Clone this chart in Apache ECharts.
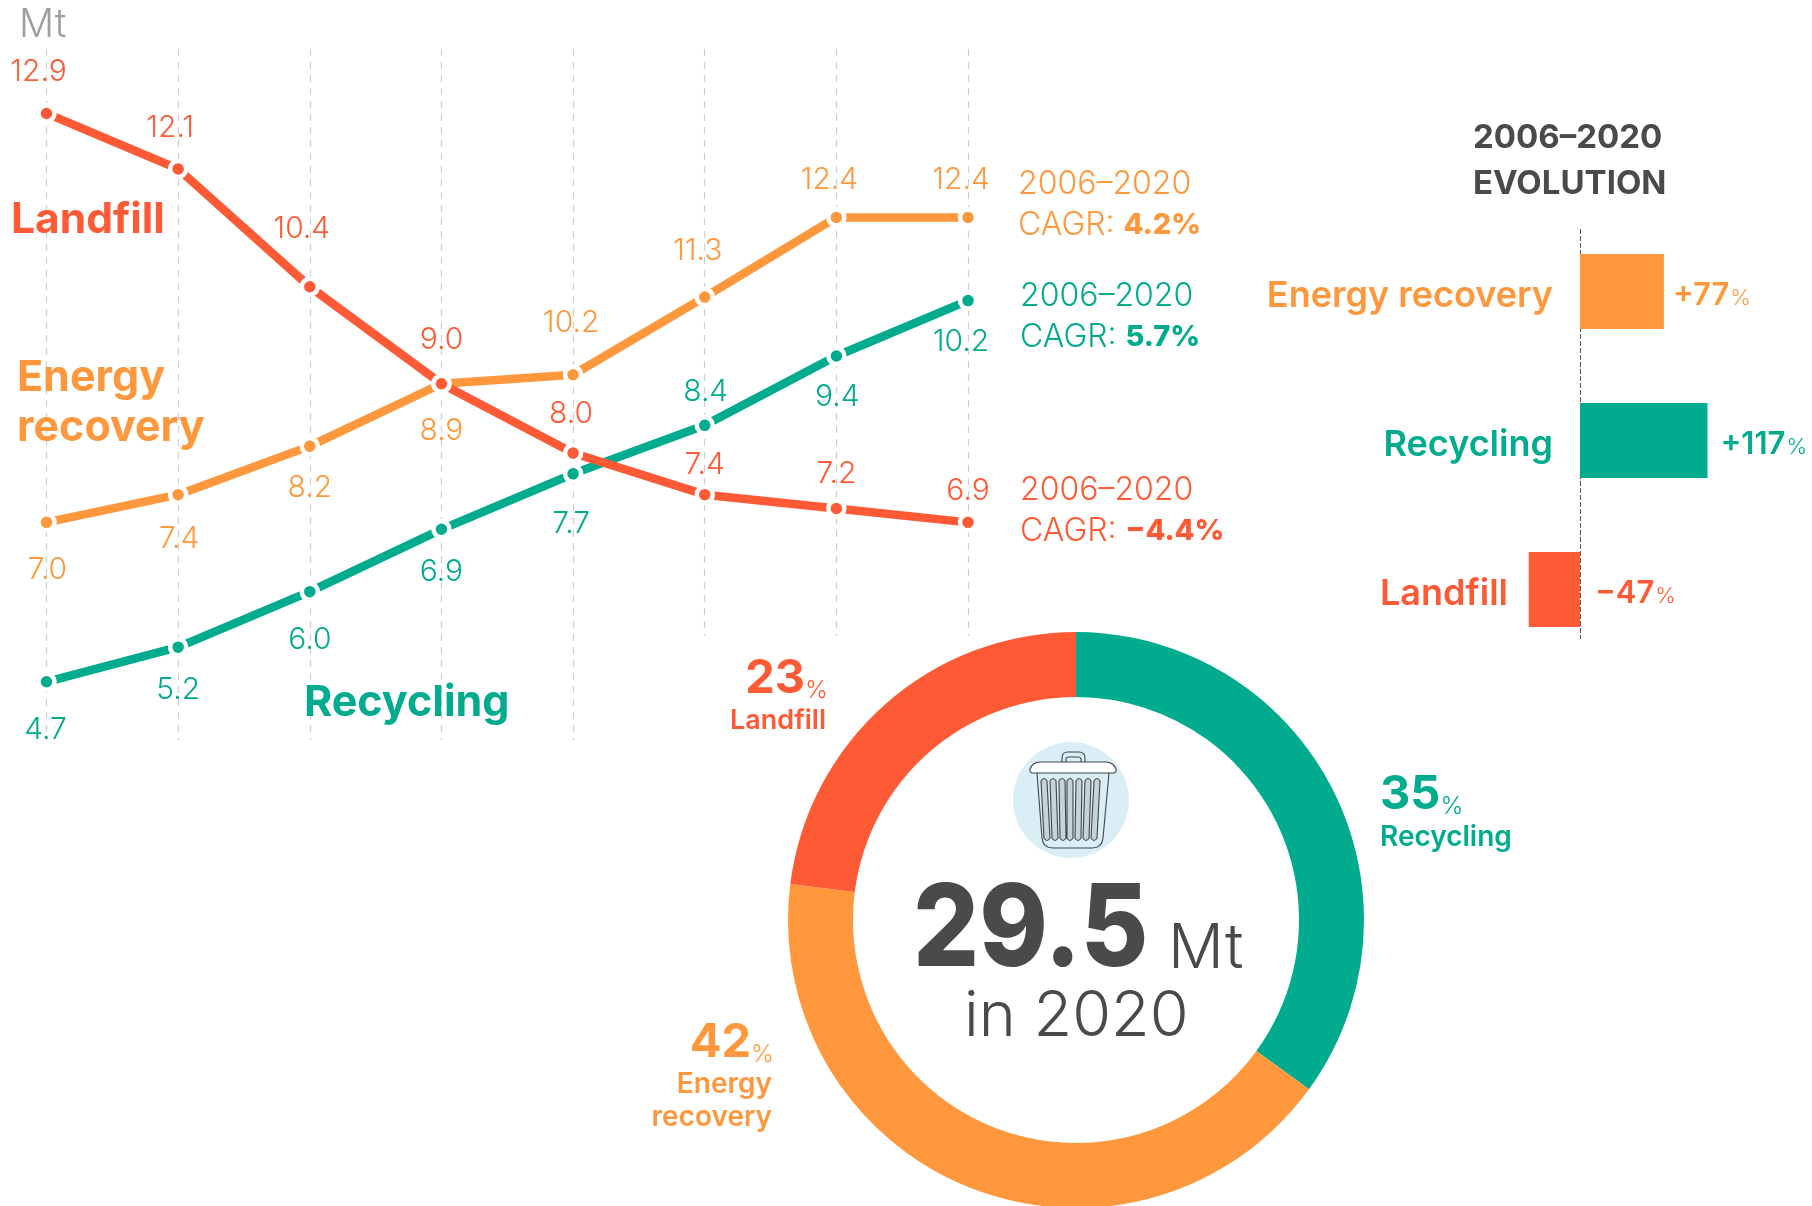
<!DOCTYPE html>
<html>
<head>
<meta charset="utf-8">
<style>html,body{margin:0;padding:0;background:#fff;overflow:hidden}#c{width:1812px;height:1206px}</style>
<script src="https://cdn.jsdelivr.net/npm/echarts@6/dist/echarts.min.js"></script>
</head>
<body>
<div id="c"></div>
<script>
// ---- Data ----
const years = ['2006','2008','2010','2012','2014','2016','2018','2020'];
// Printed labels
const landfillLabels = ['12.9','12.1','10.4','9.0','8.0','7.4','7.2','6.9'];
const energyLabels   = ['7.0','7.4','8.2','8.9','10.2','11.3','12.4','12.4'];
const recyclingLabels= ['4.7','5.2','6.0','6.9','7.7','8.4','9.4','10.2'];
// Heights as drawn in the picture (the drawn energy line and the last landfill
// point sit lower than their printed labels, so both are kept).
const landfillValues = [12.9,12.1,10.4,9.0,8.0,7.4,7.2,7.0];
const energyValues   = [7.0,7.4,8.1,9.0,9.13,10.25,11.4,11.4];
const recyclingValues= [4.7,5.2,6.0,6.9,7.7,8.4,9.4,10.2];
// Bars
const evolutionNames  = ['Energy recovery','Recycling','Landfill'];
const evolutionValues = [77,117,-47];
const evolutionLabels = ['+77','+117','\u221247'];
// Donut
const shareNames  = ['Recycling','Energy recovery','Landfill'];
const shareValues = [35,42,23];
const cagrTexts   = ['4.2%','5.7%','\u22124.4%'];

// ---- Styles ----
const ORANGE='#FF983D', GREEN='#00AB8E', RED='#FF5A36', DARK='#4A4A48', FONT='Inter';
const lblOffsets = {
  landfill:[[-8,-41],[-8,-41],[-8,-58],[0,-44],[-2,-39],[0,-30],[0,-35],[0,-31]],
  energy:[[1,48],[1,44],[0,42],[0,47],[-2,-52],[-7,-46],[-7,-37],[-7,-37]],
  recycling:[[-1,48],[0,43],[0,48],[0,43],[-2,50],[1,-33],[1,41],[-7,41]]
};
function lineSeries(name,vals,labels,color,offs){
  return {
    type:'line', name, xAxisIndex:0, yAxisIndex:0, data:vals.map((v,i)=>({
      value:v,
      label:{show:true,position:'inside',offset:offs[i],formatter:labels[i],color,fontFamily:FONT,fontWeight:300,fontSize:30}
    })),
    lineStyle:{color,width:8.5,cap:'butt'}, symbol:'circle', symbolSize:16,
    itemStyle:{color,borderColor:'#fff',borderWidth:4.5}, showSymbol:true, animation:false, silent:true, z:3
  };
}
function txt(x,y,text,color,size,weight,extra){
  return {type:'text',z:20,silent:true,style:Object.assign({x,y,text,fill:color,fontFamily:FONT,fontSize:size,fontWeight:weight,
    textAlign:'left',textVerticalAlign:'middle'},extra||{})};
}
function cagr(x,y,i,color){
  return [txt(x,y+1,'2006\u20132020',color,32,300),
    txt(x,y+42,'CAGR: {b|'+cagrTexts[i]+'}',color,32,300,{rich:{b:{fontFamily:FONT,fontSize:29,fontWeight:800,fill:color}}})];
}
function pct(x,y,v,color,size,align){
  return txt(x,y,'{n|'+v+'}{p|%}',color,size,700,{textAlign:align,rich:{
    n:{fontFamily:FONT,fontSize:size,fontWeight:700,fill:color},
    p:{fontFamily:FONT,fontSize:size*0.52,fontWeight:300,fill:color,verticalAlign:'bottom',padding:[9,0,0,0]}}});
}
const ribs=[[1044,1047],[1053,1055],[1062,1063],[1070,1070],[1079,1078],[1088,1086],[1097,1094]];
const ribPath=ribs.map(r=>{const t=r[0],b=r[1];
  return `M${t-3} 781 Q${t} 776 ${t+3} 781 L${b+3} 838 Q${b} 843 ${b-3} 838 Z`;}).join(' ');
const bodyPath='M1037 773 L1042 838 Q1043 848 1053 848 L1092 848 Q1102 848 1103 838 L1109 773';
const lidPath='M1033 773 Q1029 773 1030 769 Q1033 762 1040 762 L1106 762 Q1113 762 1116 769 Q1117 773 1113 773 Z';
const handlePath='M1062 762 L1062 758 Q1062 752 1068 752 L1079 752 Q1085 752 1085 758 L1085 762 M1066 762 L1066 759 Q1066 757 1069 757 L1078 757 Q1081 757 1081 759 L1081 762';
echarts.graphic.registerShape('binBody',echarts.graphic.extendPath(bodyPath));
echarts.graphic.registerShape('binRibs',echarts.graphic.extendPath(ribPath));
echarts.graphic.registerShape('binLid',echarts.graphic.extendPath(lidPath));
echarts.graphic.registerShape('binHandle',echarts.graphic.extendPath(handlePath));
const stroke={stroke:'#3f4547',lineWidth:1.1};

const graphic=[
  {type:'rect',z:1,silent:true,shape:{x:670,y:636,width:640,height:570},style:{fill:'#fff'}},
  txt(19,25,'Mt','#9a9ea1',39,300),
  txt(11,220,'Landfill',RED,42.5,700),
  txt(17,378,'Energy',ORANGE,43,700),
  txt(17,428,'recovery',ORANGE,43,700),
  txt(304,703,'Recycling',GREEN,43,700),
  ...cagr(1018,183,0,ORANGE),...cagr(1020,295,1,GREEN),...cagr(1020,489,2,RED),
  txt(1473,138,'2006\u20132020',DARK,33,700),
  txt(1473,184,'EVOLUTION',DARK,33,700),
  pct(828,679,shareValues[2],RED,47,'right'),
  txt(826,721,shareNames[2],RED,27,600,{textAlign:'right'}),
  pct(774,1043,shareValues[1],ORANGE,47,'right'),
  txt(772,1085,'Energy',ORANGE,28,600,{textAlign:'right'}),
  txt(772,1118,'recovery',ORANGE,28,600,{textAlign:'right'}),
  pct(1380,795,shareValues[0],GREEN,47,'left'),
  txt(1380,838,shareNames[0],GREEN,28,600),
  {type:'circle',z:10,silent:true,shape:{cx:1071,cy:800,r:58},style:{fill:'#DAEEF6'}},
  {type:'binBody',z:11,silent:true,style:Object.assign({fill:'#DAEEF6'},stroke)},
  {type:'binRibs',z:12,silent:true,style:Object.assign({fill:'#C6D4DA'},stroke)},
  {type:'binHandle',z:12,silent:true,style:Object.assign({fill:'none'},stroke)},
  {type:'binLid',z:13,silent:true,style:Object.assign({fill:'#fff'},stroke)},
  Object.assign(txt(0,0,'29.5',DARK,114,800),{x:913,y:932,scaleX:0.91}),
  txt(1168,949,'Mt',DARK,62,300),
  txt(964,1017,'in 2020',DARK,63,300)
];

const option={
  animation:false, backgroundColor:'#fff',
  grid:[
    {left:46.5,top:49,width:921.5,height:691},
    {left:1400,top:217,width:368,height:447}
  ],
  xAxis:[
    {gridIndex:0,type:'category',data:years,boundaryGap:false,axisLabel:{show:false},axisLine:{show:false},axisTick:{show:false},
     splitLine:{show:true,interval:0,lineStyle:{color:'#cfcfcf',type:[7,6],width:1.2}}},
    // 1.09 px per point of change: 0 falls at x=1580
    {gridIndex:1,type:'value',min:-165.1,max:172.5,show:false,splitLine:{show:false}}
  ],
  yAxis:[
    {gridIndex:0,type:'value',min:3.86,max:13.83,show:false,splitLine:{show:false}},
    {gridIndex:1,type:'category',inverse:true,data:evolutionNames,axisLine:{show:false},axisTick:{show:false},
     position:'left',offset:-155,
     axisLabel:{show:true,margin:0,align:'right',
       formatter:(v)=>v==='Landfill'?'{l|'+v+'}':v==='Recycling'?'{g|'+v+'}':'{o|'+v+'}',
       rich:{
        o:{color:ORANGE,fontFamily:FONT,fontSize:36,fontWeight:600,padding:[10,2,0,0]},
        g:{color:GREEN,fontFamily:FONT,fontSize:36,fontWeight:600,padding:[10,2,0,0]},
        l:{color:RED,fontFamily:FONT,fontSize:36,fontWeight:600,padding:[10,47,0,0]}
       }}}
  ],
  series:[
    lineSeries('Energy recovery',energyValues,energyLabels,ORANGE,lblOffsets.energy),
    lineSeries('Recycling',recyclingValues,recyclingLabels,GREEN,lblOffsets.recycling),
    lineSeries('Landfill',landfillValues,landfillLabels,RED,lblOffsets.landfill),
    {type:'bar',xAxisIndex:1,yAxisIndex:1,barWidth:75,animation:false,silent:true,z:4,
      data:evolutionValues.map((v,i)=>({value:v,itemStyle:{color:[ORANGE,GREEN,RED][i]},
        label:{show:true,position:'right',distance:i===0?9:i===1?13:15,
          formatter:'{n|'+evolutionLabels[i]+'}{p|%}',
          rich:{n:{color:[ORANGE,GREEN,RED][i],fontFamily:FONT,fontSize:31,fontWeight:600,padding:[8,0,0,0]},
                p:{color:[ORANGE,GREEN,RED][i],fontFamily:FONT,fontSize:22,fontWeight:300,padding:[14,0,0,1]}}}})),
      markLine:{silent:true,symbol:'none',label:{show:false},z:1,
        lineStyle:{color:'#555',type:[5,2],width:1},
        data:[[{xAxis:0,y:229},{xAxis:0,y:639}]]}
    },
    {type:'pie',center:[1076,920],radius:[223,288],startAngle:90,clockwise:true,silent:true,animation:false,z:2,
      label:{show:false},labelLine:{show:false},
      data:shareValues.map((v,i)=>({value:v,name:shareNames[i],itemStyle:{color:[GREEN,ORANGE,RED][i]}}))}
  ],
  graphic:{elements:graphic}
};
echarts.init(document.getElementById('c'),null,{renderer:'canvas'}).setOption(option);
</script>
</body>
</html>
